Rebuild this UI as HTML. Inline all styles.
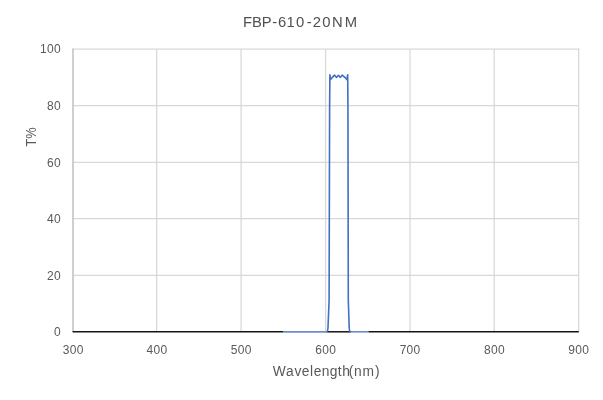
<!DOCTYPE html>
<html>
<head>
<meta charset="utf-8">
<title>FBP-610-20NM</title>
<style>
  html, body { margin: 0; padding: 0; background: #ffffff; }
  body { width: 603px; height: 400px; overflow: hidden; }
  svg { display: block; }
  text { font-family: "Liberation Sans", sans-serif; fill: #595959; }
  .tick { font-size: 12px; letter-spacing: 0.3px; }
  .grid line { stroke: #d8d8d8; stroke-width: 1.25; }
</style>
</head>
<body>
<svg width="603" height="400" viewBox="0 0 603 400">
  <rect x="0" y="0" width="603" height="400" fill="#ffffff"/>

  <!-- gridlines -->
  <g class="grid">
    <line x1="73" y1="49.1" x2="579.3" y2="49.1"/>
    <line x1="73" y1="105.5" x2="578.5" y2="105.5"/>
    <line x1="73" y1="162.3" x2="578.5" y2="162.3"/>
    <line x1="73" y1="218.5" x2="578.5" y2="218.5"/>
    <line x1="73" y1="275.3" x2="578.5" y2="275.3"/>
    <line x1="156.65" y1="49.1" x2="156.65" y2="331.8"/>
    <line x1="241.1" y1="49.1" x2="241.1" y2="331.8"/>
    <line x1="325.6" y1="49.1" x2="325.6" y2="331.8"/>
    <line x1="410" y1="49.1" x2="410" y2="331.8"/>
    <line x1="494.2" y1="49.1" x2="494.2" y2="331.8"/>
    <line x1="578.7" y1="48.5" x2="578.7" y2="331.8"/>
  </g>

  <!-- y axis -->
  <line x1="73" y1="48.5" x2="73" y2="332" stroke="#c4c4c4" stroke-width="1.6"/>

  <!-- x axis (black) -->
  <g stroke="#141414" stroke-width="1.5">
    <line x1="72.6" y1="331.8" x2="283" y2="331.8"/>
    <line x1="327" y1="331.8" x2="350.5" y2="331.8"/>
    <line x1="368.3" y1="331.8" x2="578.8" y2="331.8"/>
  </g>

  <!-- data baseline -->
  <g stroke="#6f8cc9" stroke-width="1.65">
    <line x1="283" y1="331.8" x2="327.5" y2="331.8"/>
    <line x1="350" y1="331.8" x2="368.4" y2="331.8"/>
  </g>

  <!-- data curve -->
  <path d="M327.1,331.5 C327.8,331.1 328,329.5 328.1,325 L329.1,300 L329.6,110 L329.9,74.7 L330.6,79.6 L332.3,77.4 L334.5,75.1 L336.5,77.4 L338.5,75.3 L340.3,77.4 L342.3,75.1 L344.8,77.3 L346.8,79.6 L347.7,74.7 L347.95,110 L348.3,300 L349.1,325 C349.2,329.5 349.4,331.1 350.1,331.5"
        fill="none" stroke="#4270c2" stroke-width="1.6" stroke-linejoin="round" stroke-linecap="round"/>

  <!-- title -->
  <text x="242.97 251.9 261.85 272.24 278.03 286.43 295.98 306.84 312.78 322.23 331.95 344.7" y="27.1" style="font-size:14.8px; fill:#505050;">FBP-610-20NM</text>

  <!-- y tick labels -->
  <g class="tick" text-anchor="end">
    <text x="60.9" y="53.4">100</text>
    <text x="60.9" y="109.8">80</text>
    <text x="60.9" y="166.6">60</text>
    <text x="60.9" y="223.1">40</text>
    <text x="60.9" y="279.6">20</text>
    <text x="60.9" y="336.1">0</text>
  </g>

  <!-- x tick labels -->
  <g class="tick" text-anchor="middle">
    <text x="73.2" y="353.8">300</text>
    <text x="157" y="353.8">400</text>
    <text x="241.3" y="353.8">500</text>
    <text x="325.8" y="353.8">600</text>
    <text x="410.1" y="353.8">700</text>
    <text x="494.4" y="353.8">800</text>
    <text x="578.7" y="353.8">900</text>
  </g>

  <!-- axis titles -->
  <text x="272.68 286.12 294.4 301.73 310.11 313.78 321.65 329.77 337.83 342.13 348.66 353.95 362.5 375.04" y="375.7" style="font-size:13.8px;">Wavelength(nm)</text>
  <text transform="translate(35.7,136.9) rotate(-90) scale(0.88,1)" text-anchor="middle" style="font-size:14.5px;">T%</text>
</svg>
</body>
</html>
